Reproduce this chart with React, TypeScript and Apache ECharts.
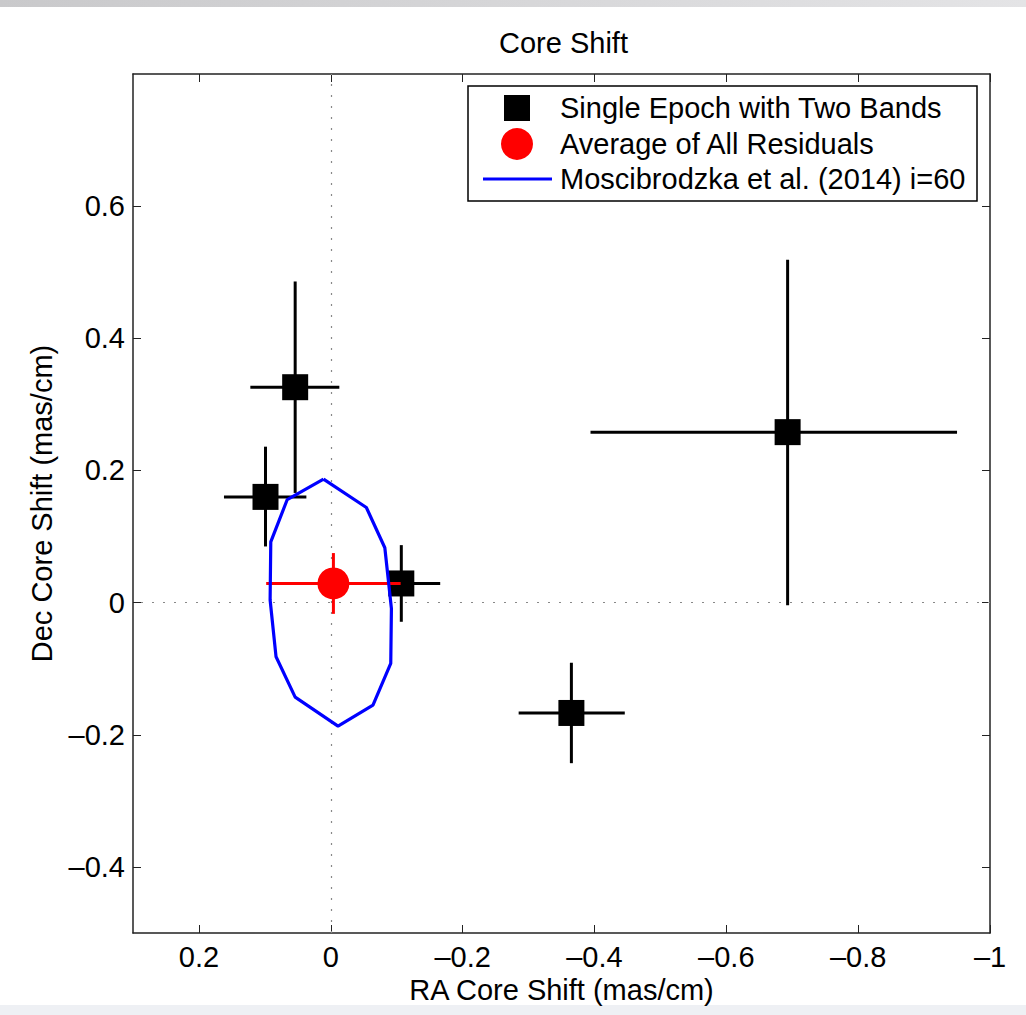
import React, { useEffect, useRef } from 'react';
import * as echarts from 'echarts';

// ---- Data ----
const epochRA = [0.054, 0.099, -0.107, -0.365, -0.693];
const epochDec = [0.326, 0.160, 0.029, -0.167, 0.258];
const epochRALow = [-0.013, 0.037, -0.166, -0.446, -0.950];
const epochRAHigh = [0.122, 0.162, -0.048, -0.285, -0.394];
const epochDecLow = [0.166, 0.085, -0.029, -0.243, -0.004];
const epochDecHigh = [0.486, 0.236, 0.087, -0.091, 0.519];

const avgRA = [-0.004];
const avgDec = [0.029];
const avgRALow = [-0.106];
const avgRAHigh = [0.098];
const avgDecLow = [-0.017];
const avgDecHigh = [0.075];

const modelRA = [0.011, -0.054, -0.082, -0.092, -0.091, -0.064, -0.011, 0.054, 0.083, 0.092, 0.091, 0.066];
const modelDec = [0.187, 0.144, 0.083, -0.009, -0.092, -0.155, -0.187, -0.143, -0.082, 0.004, 0.092, 0.156];

const raTicks = [0.2, 0, -0.2, -0.4, -0.6, -0.8, -1];
const decTicks = [-0.4, -0.2, 0, 0.2, 0.4, 0.6];

const legendNames = ['Single Epoch with Two Bands', 'Average of All Residuals', 'Moscibrodzka et al. (2014) i=60'];

const FONT = "'Liberation Sans', Arial, Helvetica, sans-serif";
const FS = 29;

const fmt = (v: number) => {
  const r = Number(v.toFixed(2));
  if (r === 0) return '0';
  return r < 0 ? '\u2013' + String(Math.abs(r)) : String(r);
};

function errData(x: number[], y: number[], xl: number[], xh: number[], yl: number[], yh: number[]) {
  return x.map((v, i) => [v, y[i], xl[i], xh[i], yl[i], yh[i]]);
}

function errRender(color: string) {
  return (params: any, api: any) => {
    const x = api.value(0), y = api.value(1);
    const a = api.coord([api.value(2), y]);
    const b = api.coord([api.value(3), y]);
    const c = api.coord([x, api.value(4)]);
    const d = api.coord([x, api.value(5)]);
    const style = { stroke: color, lineWidth: 3 };
    return {
      type: 'group',
      children: [
        { type: 'line', shape: { x1: a[0], y1: a[1], x2: b[0], y2: b[1] }, style },
        { type: 'line', shape: { x1: c[0], y1: c[1], x2: d[0], y2: d[1] }, style },
      ],
    };
  };
}

export default function App() {
  const ref = useRef<HTMLDivElement>(null);
  useEffect(() => {
    if (!ref.current) return;
    const chart = echarts.init(ref.current, null, { renderer: 'svg' });

    const axisLineStyle = { color: '#222', width: 1.5 };
    const tickStyle = { color: '#222', width: 1 };
    const polygon = modelRA.map((v, i) => [v, modelDec[i]]);
    polygon.push([modelRA[0], modelDec[0]]);

    const legX = 468, legY = 86, legW = 509, legH = 115;

    chart.setOption({
      animation: false,
      backgroundColor: '#ffffff',
      textStyle: { fontFamily: FONT },
      title: {
        text: 'Core Shift',
        left: 494,
        top: 23,
        textStyle: { fontFamily: FONT, fontSize: FS, fontWeight: 'normal', color: '#000' },
      },
      grid: { left: 133, top: 74, right: 36, bottom: 82, containLabel: false },
      xAxis: [
        {
          type: 'value', min: -1, max: 0.3, inverse: true, position: 'bottom',
          name: 'RA Core Shift (mas/cm)', nameLocation: 'middle', nameGap: 40,
          nameTextStyle: { fontFamily: FONT, fontSize: FS, color: '#000' },
          axisLine: { show: true, onZero: false, lineStyle: axisLineStyle },
          axisTick: { show: true, inside: true, length: 8, customValues: raTicks, lineStyle: tickStyle },
          axisLabel: { show: true, customValues: raTicks, formatter: fmt, margin: 9, fontFamily: FONT, fontSize: FS, color: '#000' },
          splitLine: { show: false },
        },
        {
          type: 'value', min: -1, max: 0.3, inverse: true, position: 'top',
          axisLine: { show: true, onZero: false, lineStyle: axisLineStyle },
          axisTick: { show: true, inside: true, length: 8, customValues: raTicks, lineStyle: tickStyle },
          axisLabel: { show: false },
          splitLine: { show: false },
        },
      ],
      yAxis: [
        {
          type: 'value', min: -0.5, max: 0.8, position: 'left',
          name: 'Dec Core Shift (mas/cm)', nameLocation: 'middle', nameGap: 77, nameRotate: 90,
          nameTextStyle: { fontFamily: FONT, fontSize: FS, color: '#000' },
          axisLine: { show: true, onZero: false, lineStyle: axisLineStyle },
          axisTick: { show: true, inside: true, length: 8, customValues: decTicks, lineStyle: tickStyle },
          axisLabel: { show: true, customValues: decTicks, formatter: fmt, margin: 8, fontFamily: FONT, fontSize: FS, color: '#000' },
          splitLine: { show: false },
        },
        {
          type: 'value', min: -0.5, max: 0.8, position: 'right',
          axisLine: { show: true, onZero: false, lineStyle: axisLineStyle },
          axisTick: { show: true, inside: true, length: 8, customValues: decTicks, lineStyle: tickStyle },
          axisLabel: { show: false },
          splitLine: { show: false },
        },
      ],
      series: [
        {
          type: 'line', data: [], z: 1, silent: true,
          markLine: {
            silent: true, symbol: 'none', label: { show: false },
            lineStyle: { color: '#888', type: [2, 9], width: 1.2, opacity: 1 },
            emphasis: { disabled: true },
            data: [{ xAxis: 0 }, { yAxis: 0 }],
          },
        },
        {
          type: 'custom', name: legendNames[0], z: 3,
          renderItem: errRender('#000000'),
          encode: { x: 0, y: 1 },
          data: errData(epochRA, epochDec, epochRALow, epochRAHigh, epochDecLow, epochDecHigh),
        },
        {
          type: 'scatter', name: legendNames[0], z: 4,
          symbol: 'rect', symbolSize: 26,
          itemStyle: { color: '#000000', opacity: 1 },
          data: epochRA.map((v, i) => [v, epochDec[i]]),
        },
        {
          type: 'custom', name: legendNames[1], z: 5,
          renderItem: errRender('#ff0000'),
          encode: { x: 0, y: 1 },
          data: errData(avgRA, avgDec, avgRALow, avgRAHigh, avgDecLow, avgDecHigh),
        },
        {
          type: 'scatter', name: legendNames[1], z: 6,
          symbol: 'circle', symbolSize: 32,
          itemStyle: { color: '#ff0000', opacity: 1 },
          data: avgRA.map((v, i) => [v, avgDec[i]]),
        },
        {
          type: 'line', name: legendNames[2], z: 7,
          showSymbol: false, symbol: 'none',
          lineStyle: { color: '#0000ff', width: 3.2 },
          data: polygon,
        },
      ],
      graphic: [
        {
          type: 'rect', z: -10, silent: true,
          shape: { x: 0, y: 0, width: 1026, height: 7 },
          style: { fill: new echarts.graphic.LinearGradient(0, 0, 1, 0, [
            { offset: 0, color: '#c9c9cb' }, { offset: 1, color: '#e4e4e6' },
          ]) },
        },
        {
          type: 'rect', z: -10, silent: true,
          shape: { x: 0, y: 1005, width: 1026, height: 10 },
          style: { fill: '#eef0f4' },
        },
        {
          type: 'group', z: 100,
          children: [
            { type: 'rect', shape: { x: legX, y: legY, width: legW, height: legH }, style: { fill: '#fff', stroke: '#000', lineWidth: 1.5 } },
            { type: 'rect', shape: { x: 504, y: 95, width: 26, height: 26 }, style: { fill: '#000' } },
            { type: 'circle', shape: { cx: 517, cy: 144, r: 16 }, style: { fill: '#ff0000' } },
            { type: 'line', shape: { x1: 483, y1: 179, x2: 552, y2: 179 }, style: { stroke: '#0000ff', lineWidth: 3 } },
            { type: 'text', x: 560, y: 108, style: { text: legendNames[0], font: `${FS}px ${FONT}`, fill: '#000', verticalAlign: 'middle' } },
            { type: 'text', x: 560, y: 144, style: { text: legendNames[1], font: `${FS}px ${FONT}`, fill: '#000', verticalAlign: 'middle' } },
            { type: 'text', x: 560, y: 179, style: { text: legendNames[2], font: `${FS}px ${FONT}`, fill: '#000', verticalAlign: 'middle' } },
          ],
        },
      ],
    });
    return () => chart.dispose();
  }, []);
  return <div ref={ref} style={{ position: 'fixed', left: 0, top: 0, width: 1026, height: 1015 }} />;
}
